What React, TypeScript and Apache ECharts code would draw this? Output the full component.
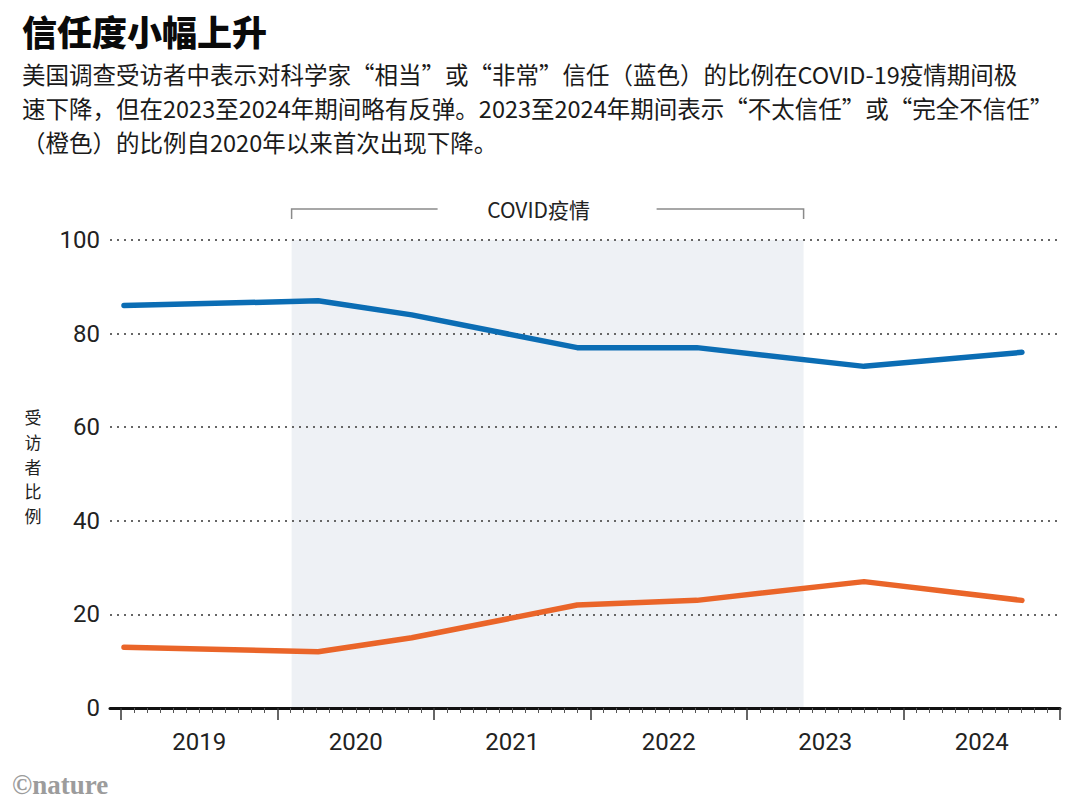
import React, { useEffect, useRef } from "react";
import * as echarts from "echarts";

// ---- Data ----
const surveyDates = ["2019-01-08", "2020-04-05", "2020-11-10", "2021-12-01", "2022-09-06", "2023-10-01", "2024-10-04"];
const trustValues = [86, 87, 84, 77, 77, 73, 76];
const distrustValues = [13, 12, 15, 22, 23, 27, 23];
const yearLabels = ["2019", "2020", "2021", "2022", "2023", "2024"];
const covidStart = "2020-02-03";
const covidEnd = "2023-05-13";

const titleText = "信任度小幅上升";
const subtitleLines = [
  "美国调查受访者中表示对科学家“相当”或“非常”信任（蓝色）的比例在COVID-19疫情期间极",
  "速下降，但在2023至2024年期间略有反弹。2023至2024年期间表示“不太信任”或“完全不信任”",
  "（橙色）的比例自2020年以来首次出现下降。",
];
const yAxisName = "受访者比例";
const covidLabel = "COVID疫情";
const sourceText = "©nature";

const BLUE = "#0b6db4";
const ORANGE = "#ea6529";
const SHADE = "#eef1f5";
const CJK = "'Noto Sans CJK SC', 'Noto Sans', sans-serif";
const NUM = "Roboto, 'Noto Sans', sans-serif";

function toYear(d: string): number {
  const [y, m, dd] = d.split("-").map(Number);
  const start = Date.UTC(y, 0, 1);
  const end = Date.UTC(y + 1, 0, 1);
  return y + (Date.UTC(y, m - 1, dd) - start) / (end - start);
}

export default function App() {
  const ref = useRef<HTMLDivElement>(null);

  useEffect(() => {
    if (!ref.current) return;
    const chart = echarts.init(ref.current, undefined, { renderer: "svg" });

    const option: any = {
      animation: false,
      backgroundColor: "#ffffff",
      grid: [
        { left: 110, right: 20, top: 240, bottom: 101 },
        { left: 121, right: 20, top: 240, bottom: 101 },
      ],
      xAxis: [
        {
          gridIndex: 0,
          type: "value",
          min: 0,
          max: 1,
          axisLine: { show: true, lineStyle: { color: "#111", width: 3 } },
          axisTick: { show: false },
          axisLabel: { show: false },
          splitLine: { show: false },
          z: 10,
        },
        {
          gridIndex: 1,
          type: "value",
          min: 2019,
          max: 2025,
          interval: 1,
          axisLine: { show: false },
          axisTick: { show: true, length: 12, lineStyle: { color: "#333", width: 1.5 } },
          minorTick: { show: true, splitNumber: 12, length: 5, lineStyle: { color: "#555", width: 1 } },
          axisLabel: {
            customValues: yearLabels.map((l) => Number(l) + 0.5),
            formatter: (v: number) => String(Math.floor(v)),
            fontSize: 24,
            color: "#222",
            margin: 22,
            fontFamily: NUM,
          },
          splitLine: { show: false },
          minorSplitLine: { show: false },
          z: 10,
        },
      ],
      yAxis: [
        {
          gridIndex: 0,
          type: "value",
          min: 0,
          max: 100,
          interval: 20,
          axisLine: { show: false },
          axisTick: { show: false },
          axisLabel: { fontSize: 24, color: "#222", margin: 10, fontFamily: NUM },
          splitLine: { show: true, lineStyle: { color: "#666", width: 2, type: [2, 5] } },
          z: 3,
        },
        { gridIndex: 1, type: "value", min: 0, max: 100, show: false },
      ],
      series: [
        {
          type: "line",
          xAxisIndex: 1,
          yAxisIndex: 1,
          data: [],
          z: 1,
          silent: true,
          markArea: {
            silent: true,
            itemStyle: { color: SHADE },
            data: [[{ xAxis: toYear(covidStart) }, { xAxis: toYear(covidEnd) }]],
          },
        },
        {
          type: "line",
          name: "信任",
          xAxisIndex: 1,
          yAxisIndex: 1,
          data: surveyDates.map((d, i) => [toYear(d), trustValues[i]]),
          symbol: "none",
          lineStyle: { color: BLUE, width: 5.5, cap: "round", join: "round" },
          z: 5,
        },
        {
          type: "line",
          name: "不信任",
          xAxisIndex: 1,
          yAxisIndex: 1,
          data: surveyDates.map((d, i) => [toYear(d), distrustValues[i]]),
          symbol: "none",
          lineStyle: { color: ORANGE, width: 5.5, cap: "round", join: "round" },
          z: 5,
        },
      ],
    };
    chart.setOption(option);

    const x1 = chart.convertToPixel({ xAxisIndex: 1 } as any, toYear(covidStart)) as number;
    const x2 = chart.convertToPixel({ xAxisIndex: 1 } as any, toYear(covidEnd)) as number;
    const mid = (x1 + x2) / 2;
    const by = 209;
    const bracketStyle = { stroke: "#8a8a8a", lineWidth: 1.5, fill: "none" };
    const nameStep = 24.8;
    const nameChars = yAxisName.split("");
    const nameTop = 466 - ((nameChars.length - 1) * nameStep) / 2;
    const subStep = 34.3;

    chart.setOption({
      graphic: [
        {
          type: "text",
          left: 22,
          top: 13,
          style: { text: titleText, font: `900 35px ${CJK}`, fill: "#0a0a0a" },
        },
        ...subtitleLines.map((line, i) => ({
          type: "text",
          x: 22,
          y: 108 + (i - 1) * subStep,
          style: {
            text: line,
            font: `400 23.5px ${CJK}`,
            fill: "#1a1a1a",
            textVerticalAlign: "middle",
          },
        })),
        {
          type: "polyline",
          shape: { points: [[x1, by + 10], [x1, by], [mid - 110, by]] },
          style: bracketStyle,
          z: 5,
        },
        {
          type: "polyline",
          shape: { points: [[mid + 109, by], [x2, by], [x2, by + 10]] },
          style: bracketStyle,
          z: 5,
        },
        {
          type: "text",
          x: mid - 9,
          y: by,
          style: {
            text: covidLabel,
            font: `400 21px ${CJK}`,
            fill: "#222",
            textAlign: "center",
            textVerticalAlign: "middle",
          },
          z: 5,
        },
        ...nameChars.map((ch, i) => ({
          type: "text",
          x: 33,
          y: nameTop + i * nameStep,
          style: {
            text: ch,
            font: `400 17px ${CJK}`,
            fill: "#222",
            textAlign: "center",
            textVerticalAlign: "middle",
          },
        })),
        {
          type: "text",
          x: 12,
          y: 785,
          style: {
            text: sourceText,
            font: `700 27px 'Liberation Serif', serif`,
            fill: "#9c9c9c",
            textVerticalAlign: "middle",
          },
        },
      ],
    });

    return () => chart.dispose();
  }, []);

  return (
    <div
      ref={ref}
      style={{ position: "fixed", left: 0, top: 0, width: 1080, height: 809, background: "#fff" }}
    />
  );
}
